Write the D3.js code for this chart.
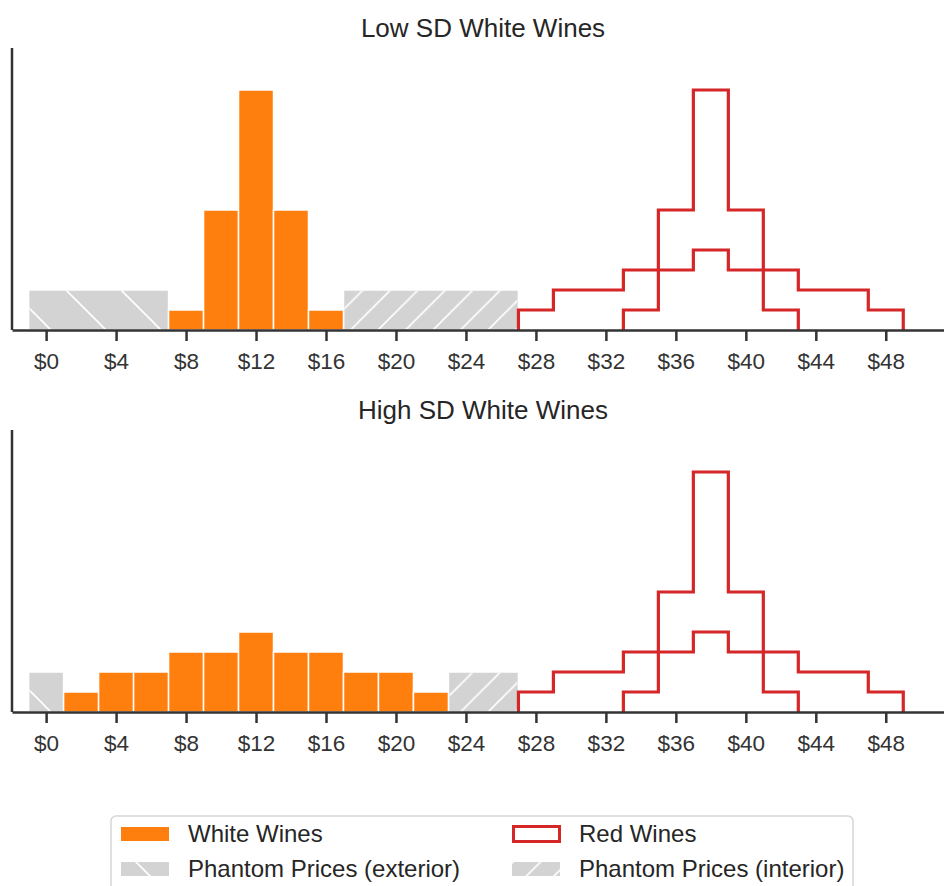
<!DOCTYPE html>
<html lang="en">

<head>
  <meta charset="UTF-8">
  <title>White vs Red Wine Prices</title>

  <script src="https://d3js.org/d3.v7.min.js"></script>

  <style>
    body {
      margin: 0;
      background: #fff;
    }

    svg {
      display: block;
      font-family: "Liberation Sans", Arial, sans-serif;
    }

    .title {
      font-size: 26px;
      fill: #262626;
    }

    .x-axis text {
      font-size: 22.5px;
      fill: #333;
    }

    .x-axis path,
    .x-axis line,
    .spine {
      stroke: #333;
      stroke-width: 2.5px;
    }

    .legend_text {
      font-size: 24px;
      fill: #262626;
    }
  </style>

</head>

<body>

<svg width="944" height="886"></svg>

<script>
  // bin edges + counts (bins are $2 wide)
  const lowWhiteEdges = [7, 9, 11, 13, 15, 17];
  const lowWhiteCounts = [1, 6, 12, 6, 1];
  const highWhiteEdges = [1, 3, 5, 7, 9, 11, 13, 15, 17, 19, 21, 23];
  const highWhiteCounts = [1, 2, 2, 3, 3, 4, 3, 3, 2, 2, 1];

  const redNarrowEdges = [33, 35, 37, 39, 41, 43];
  const redNarrowCounts = [1, 6, 12, 6, 1];
  const redWideEdges = [27, 29, 31, 33, 35, 37, 39, 41, 43, 45, 47, 49];
  const redWideCounts = [1, 2, 2, 3, 3, 4, 3, 3, 2, 2, 1];

  // phantom price ranges: [from, to, height]
  const lowPhantomExt = [-1, 7, 2];
  const lowPhantomInt = [17, 27, 2];
  const highPhantomExt = [-1, 1, 2];
  const highPhantomInt = [23, 27, 2];

  const tickValues = [0, 4, 8, 12, 16, 20, 24, 28, 32, 36, 40, 44, 48];
  const titles = ["Low SD White Wines", "High SD White Wines"];
  const legendLabels = ["White Wines", "Red Wines", "Phantom Prices (exterior)", "Phantom Prices (interior)"];

  const orange = "#ff7f0e", red = "#d62728", grey = "#d3d3d3";

  let svg = d3.select("svg");

  const x = d3.scaleLinear().domain([-1.95, 51.9]).range([12, 954]);
  const panelH = 282;
  const y = d3.scaleLinear().domain([0, 14.1]).range([panelH, 0]);

  // hatch patterns
  const defs = svg.append("defs");
  defs.append("pattern")
          .attr("id", "hatch-ext")
          .attr("patternUnits", "userSpaceOnUse")
          .attr("width", 55).attr("height", 55)
          .attr("x", 44)
          .append("path")
          .attr("d", "M-5,-5L60,60M-5,50L5,60M50,-5L60,5")
          .attr("stroke", "white")
          .attr("stroke-width", 1.6);
  defs.append("pattern")
          .attr("id", "hatch-int")
          .attr("patternUnits", "userSpaceOnUse")
          .attr("width", 27.5).attr("height", 27.5)
          .append("path")
          .attr("d", "M-5,32.5L32.5,-5M-5,5L5,-5M22.5,32.5L32.5,22.5")
          .attr("stroke", "white")
          .attr("stroke-width", 1.6);

  function stepPoints(edges, counts) {
    let pts = [[edges[0], 0]];
    counts.forEach((c, i) => pts.push([edges[i], c]));
    pts.push([edges[edges.length - 1], 0]);
    return pts;
  }

  const stepLine = d3.line()
          .x(d => x(d[0]))
          .y(d => y(d[1]))
          .curve(d3.curveStepAfter);

  function drawPanel(top, title, wEdges, wCounts, ext, intr) {
    let g = svg.append("g").attr("transform", `translate(0,${top})`);

    g.append("text")
            .attr("class", "title")
            .attr("x", 483)
            .attr("y", -11)
            .attr("text-anchor", "middle")
            .text(title);

    // phantom bars
    [[ext, "hatch-ext"], [intr, "hatch-int"]].forEach(([b, hatch]) => {
      g.append("rect")
              .attr("x", x(b[0]))
              .attr("y", y(b[2]))
              .attr("width", x(b[1]) - x(b[0]))
              .attr("height", y(0) - y(b[2]))
              .attr("fill", grey)
              .attr("stroke", "white")
              .attr("stroke-width", 1.5);
      g.append("rect")
              .attr("x", x(b[0]) + 1)
              .attr("y", y(b[2]) + 1)
              .attr("width", x(b[1]) - x(b[0]) - 2)
              .attr("height", y(0) - y(b[2]) - 1)
              .attr("fill", `url(#${hatch})`);
    });

    // white wine bars
    g.append("g")
            .selectAll("rect")
            .data(wCounts)
            .enter()
            .append("rect")
            .attr("x", (d, i) => x(wEdges[i]))
            .attr("y", d => y(d))
            .attr("width", (d, i) => x(wEdges[i + 1]) - x(wEdges[i]))
            .attr("height", d => y(0) - y(d))
            .attr("fill", orange)
            .attr("stroke", "white")
            .attr("stroke-width", 1.5);

    // red wine step outlines
    [[redWideEdges, redWideCounts], [redNarrowEdges, redNarrowCounts]].forEach(([e, c]) => {
      g.append("path")
              .attr("d", stepLine(stepPoints(e, c)))
              .attr("fill", "none")
              .attr("stroke", red)
              .attr("stroke-width", 3.2)
              .attr("stroke-linejoin", "miter");
    });

    // axes
    g.append("g")
            .attr("class", "x-axis")
            .attr("transform", `translate(0,${panelH})`)
            .call(d3.axisBottom(x)
                    .tickValues(tickValues)
                    .tickFormat(d => "$" + d)
                    .tickSize(11)
                    .tickSizeOuter(0)
                    .tickPadding(12));

    g.append("line")
            .attr("class", "spine")
            .attr("x1", 12).attr("x2", 12)
            .attr("y1", 0).attr("y2", panelH);
  }

  drawPanel(48, titles[0], lowWhiteEdges, lowWhiteCounts, lowPhantomExt, lowPhantomInt);
  drawPanel(430, titles[1], highWhiteEdges, highWhiteCounts, highPhantomExt, highPhantomInt);

  // legend
  let lg = svg.append("g");
  lg.append("rect")
          .attr("x", 111).attr("y", 816)
          .attr("width", 742).attr("height", 95)
          .attr("rx", 5)
          .attr("fill", "white")
          .attr("stroke", "#d6d6d6")
          .attr("stroke-width", 1.5);

  const legendItems = [
    {label: legendLabels[0], px: 121, cy: 834, kind: "white"},
    {label: legendLabels[1], px: 512, cy: 834, kind: "red"},
    {label: legendLabels[2], px: 121, cy: 869, kind: "ext"},
    {label: legendLabels[3], px: 512, cy: 869, kind: "int"}
  ];

  legendItems.forEach(it => {
    if (it.kind === "white") {
      lg.append("rect").attr("x", it.px).attr("y", it.cy - 7)
              .attr("width", 48).attr("height", 14).attr("fill", orange);
    } else if (it.kind === "red") {
      lg.append("rect").attr("x", it.px + 1.5).attr("y", it.cy - 7.5)
              .attr("width", 46).attr("height", 15)
              .attr("fill", "white").attr("stroke", red).attr("stroke-width", 3);
    } else {
      lg.append("rect").attr("x", it.px).attr("y", it.cy - 7)
              .attr("width", 48).attr("height", 14).attr("fill", grey);
      lg.append("rect").attr("x", it.px).attr("y", it.cy - 7)
              .attr("width", 48).attr("height", 14)
              .attr("fill", it.kind === "ext" ? "url(#hatch-ext)" : "url(#hatch-int)");
    }
    lg.append("text")
            .attr("class", "legend_text")
            .attr("x", it.px + 67)
            .attr("y", it.cy + 8)
            .text(it.label);
  });
</script>
</body>

</html>
